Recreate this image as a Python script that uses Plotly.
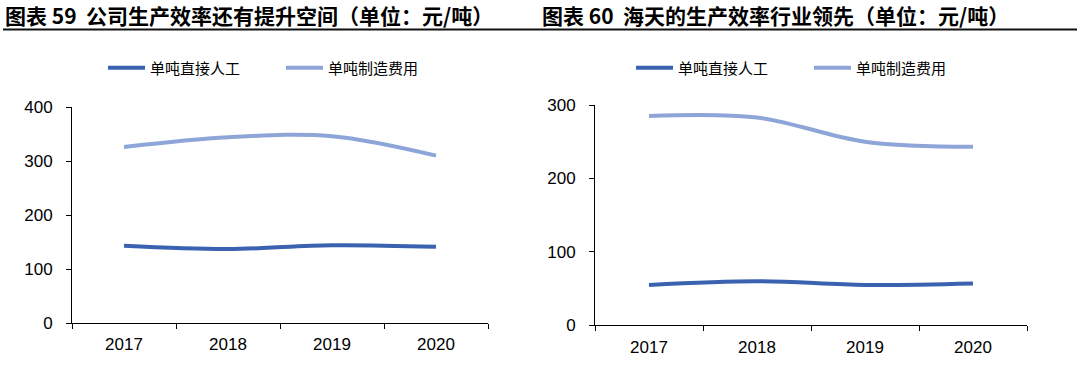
import plotly.graph_objects as go

years = ["2017", "2018", "2019", "2020"]
left_labor = [143, 137, 144, 141]
left_mfg = [326, 344, 346, 310]
right_labor = [55, 60, 55, 57]
right_mfg = [285, 283, 250, 243]

title_left = "图表 59  公司生产效率还有提升空间（单位：元/吨）"
title_right = "图表 60  海天的生产效率行业领先（单位：元/吨）"
name_labor = "单吨直接人工"
name_mfg = "单吨制造费用"

DARK = "#3A62B0"
LIGHT = "#8EA5D8"
W, H = 1080, 365

fig = go.Figure()
for xa, ya, lab, mfg, lg in [("x", "y", left_labor, left_mfg, "legend"),
                             ("x2", "y2", right_labor, right_mfg, "legend2")]:
    fig.add_trace(go.Scatter(x=years, y=lab, name=name_labor, mode="lines",
                             line=dict(color=DARK, width=4, shape="spline", smoothing=1),
                             xaxis=xa, yaxis=ya, legend=lg))
    fig.add_trace(go.Scatter(x=years, y=mfg, name=name_mfg, mode="lines",
                             line=dict(color=LIGHT, width=4, shape="spline", smoothing=1),
                             xaxis=xa, yaxis=ya, legend=lg))

axfont = dict(family="Liberation Sans, Arial", size=17, color="#000000")
xcommon = dict(type="category", range=[-0.5, 3.5], showline=True, linecolor="#000000",
               linewidth=1, ticks="outside", ticklen=5, tickcolor="#000000",
               tickson="boundaries", showgrid=False, tickfont=axfont, zeroline=False,
               fixedrange=True, ticklabelstandoff=6, automargin=False)
ycommon = dict(showline=True, linecolor="#000000", linewidth=1, ticks="outside",
               ticklen=5, tickcolor="#000000", showgrid=False, tickfont=axfont,
               zeroline=False, fixedrange=True, ticklabelstandoff=10, automargin=False)

legfont = dict(family="Noto Sans CJK SC", size=15, color="#000000")
fig.update_layout(
    width=W, height=H, autosize=False,
    margin=dict(l=0, r=0, t=0, b=0, pad=0, autoexpand=False),
    paper_bgcolor="white", plot_bgcolor="white",
    xaxis=dict(domain=[72 / W, 488 / W], anchor="y", **xcommon),
    yaxis=dict(domain=[1 - 323 / H, 1 - 107 / H], range=[0, 400], dtick=100,
               anchor="x", **ycommon),
    xaxis2=dict(domain=[595 / W, 1027 / W], anchor="y2", **xcommon),
    yaxis2=dict(domain=[1 - 325.3 / H, 1 - 105 / H], range=[0, 300], dtick=100,
                anchor="x2", **ycommon),
    legend=dict(orientation="h", x=103 / W, y=1 - 68 / H, xanchor="left", yanchor="middle",
                font=legfont, itemwidth=37,
                entrywidth=126, entrywidthmode="pixels", bgcolor="rgba(0,0,0,0)",
                itemclick=False),
    legend2=dict(orientation="h", x=631 / W, y=1 - 68 / H, xanchor="left", yanchor="middle",
                 font=legfont, itemwidth=37,
                 entrywidth=126, entrywidthmode="pixels", bgcolor="rgba(0,0,0,0)",
                 itemclick=False),
    showlegend=True,
)

tfont = dict(family="Noto Sans CJK SC", size=21, color="#000000", weight="bold")
fig.add_annotation(text=title_left, xref="paper", yref="paper", x=3 / W, y=1 - 15.5 / H,
                   xanchor="left", yanchor="middle", showarrow=False, font=tfont)
fig.add_annotation(text=title_right, xref="paper", yref="paper", x=540 / W, y=1 - 15.5 / H,
                   xanchor="left", yanchor="middle", showarrow=False, font=tfont)
fig.add_shape(type="line", xref="paper", yref="paper", x0=3 / W, x1=1077 / W,
              y0=1 - 29.5 / H, y1=1 - 29.5 / H, line=dict(color="#111111", width=2))

fig.write_html("out.html", config={"displayModeBar": False},
               post_script="document.body.style.margin='0';document.body.style.overflow='hidden';")
